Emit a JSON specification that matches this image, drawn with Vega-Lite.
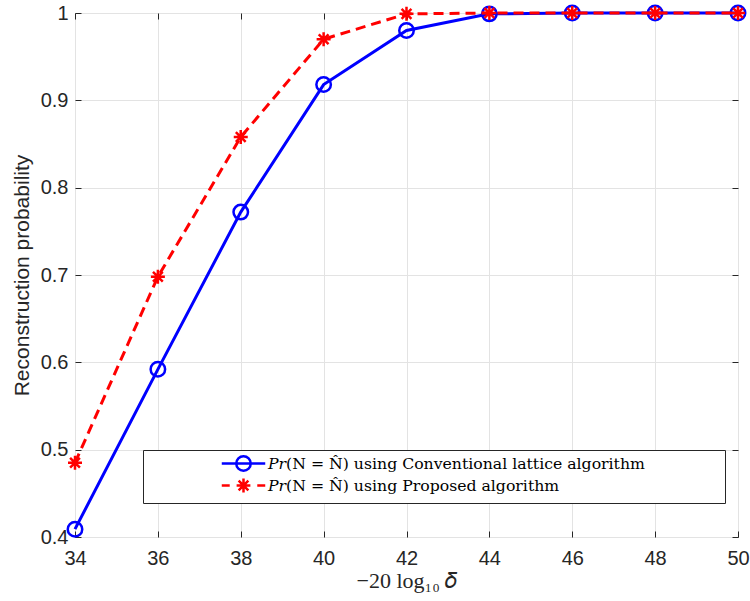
{
  "$schema": "https://vega.github.io/schema/vega-lite/v6.json",
  "width": 663,
  "height": 524,
  "autosize": {"type": "none"},
  "padding": {"left": 75, "top": 13, "right": 12, "bottom": 64},
  "background": "white",
  "config": {
    "view": {"stroke": "#262626", "strokeWidth": 1},
    "axis": {
      "domain": false,
      "tickColor": "#262626",
      "tickSize": -6,
      "labelFlush": false,
      "labelFont": "Liberation Sans",
      "labelFontSize": 20,
      "labelColor": "#262626",
      "titleColor": "#262626",
      "titleFontWeight": "normal",
      "gridColor": "#e3e3e3",
      "gridWidth": 1
    },
    "legend": {
      "orient": "none",
      "legendX": 68,
      "legendY": 437,
      "strokeColor": "#262626",
      "fillColor": "white",
      "padding": 5,
      "symbolSize": 210,
      "symbolStrokeWidth": 2.5,
      "symbolOpacity": 1,
      "symbolOffset": 87,
      "labelOffset": 16,
      "labelFont": "DejaVu Serif",
      "labelFontSize": 15.7,
      "labelColor": "black",
      "labelLimit": 0,
      "rowPadding": -3
    }
  },
  "data": {
    "values": [
      {"x": 34, "p": 0.409, "series": "𝑃𝑟(N = N̂) using Conventional lattice algorithm"},
      {"x": 36, "p": 0.592, "series": "𝑃𝑟(N = N̂) using Conventional lattice algorithm"},
      {"x": 38, "p": 0.772, "series": "𝑃𝑟(N = N̂) using Conventional lattice algorithm"},
      {"x": 40, "p": 0.918, "series": "𝑃𝑟(N = N̂) using Conventional lattice algorithm"},
      {"x": 42, "p": 0.980, "series": "𝑃𝑟(N = N̂) using Conventional lattice algorithm"},
      {"x": 44, "p": 0.999, "series": "𝑃𝑟(N = N̂) using Conventional lattice algorithm"},
      {"x": 46, "p": 1.0, "series": "𝑃𝑟(N = N̂) using Conventional lattice algorithm"},
      {"x": 48, "p": 1.0, "series": "𝑃𝑟(N = N̂) using Conventional lattice algorithm"},
      {"x": 50, "p": 1.0, "series": "𝑃𝑟(N = N̂) using Conventional lattice algorithm"},
      {"x": 34, "p": 0.485, "series": "𝑃𝑟(N = N̂) using Proposed algorithm"},
      {"x": 36, "p": 0.698, "series": "𝑃𝑟(N = N̂) using Proposed algorithm"},
      {"x": 38, "p": 0.858, "series": "𝑃𝑟(N = N̂) using Proposed algorithm"},
      {"x": 40, "p": 0.970, "series": "𝑃𝑟(N = N̂) using Proposed algorithm"},
      {"x": 42, "p": 0.999, "series": "𝑃𝑟(N = N̂) using Proposed algorithm"},
      {"x": 44, "p": 1.0, "series": "𝑃𝑟(N = N̂) using Proposed algorithm"},
      {"x": 46, "p": 1.0, "series": "𝑃𝑟(N = N̂) using Proposed algorithm"},
      {"x": 48, "p": 1.0, "series": "𝑃𝑟(N = N̂) using Proposed algorithm"},
      {"x": 50, "p": 1.0, "series": "𝑃𝑟(N = N̂) using Proposed algorithm"}
    ]
  },
  "layer": [
    {
      "transform": [{"filter": "indexof(datum.series, 'Conventional') >= 0"}],
      "mark": {"type": "line", "color": "#0000ff", "strokeWidth": 3},
      "encoding": {
        "x": {
          "field": "x", "type": "quantitative",
          "scale": {"domain": [34, 50], "nice": false, "zero": false},
          "axis": {
            "orient": "bottom",
            "values": [34, 36, 38, 40, 42, 44, 46, 48, 50],
            "grid": true,
            "labelFlush": false,
            "labelPadding": 17,
            "title": "−20 log₁₀ 𝛿",
            "titleFont": "Liberation Serif",
            "titleFontSize": 22,
            "titlePadding": 2
          }
        },
        "y": {
          "field": "p", "type": "quantitative",
          "scale": {"domain": [0.4, 1], "nice": false, "zero": false},
          "axis": {
            "orient": "left",
            "values": [0.4, 0.5, 0.6, 0.7, 0.8, 0.9, 1],
            "format": ".1~f",
            "grid": true,
            "labelFlush": false,
            "labelPadding": 13,
            "title": "Reconstruction probability",
            "titleFont": "Liberation Sans",
            "titleFontSize": 21,
            "titlePadding": 8
          }
        }
      }
    },
    {
      "transform": [{"filter": "indexof(datum.series, 'Conventional') >= 0"}],
      "mark": {"type": "point", "shape": "circle", "filled": false, "color": "#0000ff", "size": 210, "strokeWidth": 2.5, "opacity": 1},
      "encoding": {
        "x": {"field": "x", "type": "quantitative", "axis": null},
        "y": {"field": "p", "type": "quantitative", "axis": null}
      }
    },
    {
      "transform": [{"filter": "indexof(datum.series, 'Proposed') >= 0"}],
      "mark": {"type": "line", "color": "#ff0000", "strokeWidth": 3, "strokeDash": [10, 6]},
      "encoding": {
        "x": {"field": "x", "type": "quantitative", "axis": null},
        "y": {"field": "p", "type": "quantitative", "axis": null}
      }
    },
    {
      "transform": [{"filter": "indexof(datum.series, 'Proposed') >= 0"}],
      "mark": {"type": "point", "shape": "M-1,0L1,0M0,-1L0,1M-0.7,-0.7L0.7,0.7M-0.7,0.7L0.7,-0.7", "filled": false, "color": "#ff0000", "size": 196, "strokeWidth": 2.5, "opacity": 1},
      "encoding": {
        "x": {"field": "x", "type": "quantitative", "axis": null},
        "y": {"field": "p", "type": "quantitative", "axis": null}
      }
    },
    {
      "mark": {"type": "point", "filled": false, "opacity": 0, "size": 210},
      "encoding": {
        "x": {
          "field": "x", "type": "quantitative",
          "axis": {"orient": "top", "values": [34, 36, 38, 40, 42, 44, 46, 48, 50], "labels": false, "grid": false, "title": null}
        },
        "y": {
          "field": "p", "type": "quantitative",
          "axis": {"orient": "right", "values": [0.4, 0.5, 0.6, 0.7, 0.8, 0.9, 1], "labels": false, "grid": false, "title": null}
        },
        "color": {
          "field": "series", "type": "nominal",
          "scale": {
            "domain": ["𝑃𝑟(N = N̂) using Conventional lattice algorithm", "𝑃𝑟(N = N̂) using Proposed algorithm"],
            "range": ["#0000ff", "#ff0000"]
          },
          "legend": {
            "title": null,
            "labelExpr": "datum.label + '\u00a0\u00a0\u00a0\u00a0\u00a0\u00a0\u00a0\u00a0\u00a0\u00a0\u00a0\u00a0\u00a0\u00a0\u00a0\u200b'"
          }
        },
        "shape": {
          "field": "series", "type": "nominal",
          "scale": {
            "domain": ["𝑃𝑟(N = N̂) using Conventional lattice algorithm", "𝑃𝑟(N = N̂) using Proposed algorithm"],
            "range": [
              "M-3,0H3M1,0A1,1,0,1,1,-1,0A1,1,0,1,1,1,0",
              "M-3,0H-1.9M1.9,0H3M-0.95,0H0.95M0,-0.95V0.95M-0.67,-0.67L0.67,0.67M-0.67,0.67L0.67,-0.67"
            ]
          },
          "legend": {
            "title": null,
            "labelExpr": "datum.label + '\u00a0\u00a0\u00a0\u00a0\u00a0\u00a0\u00a0\u00a0\u00a0\u00a0\u00a0\u00a0\u00a0\u00a0\u00a0\u200b'"
          }
        }
      }
    }
  ],
  "resolve": {"axis": {"x": "independent", "y": "independent"}}
}
